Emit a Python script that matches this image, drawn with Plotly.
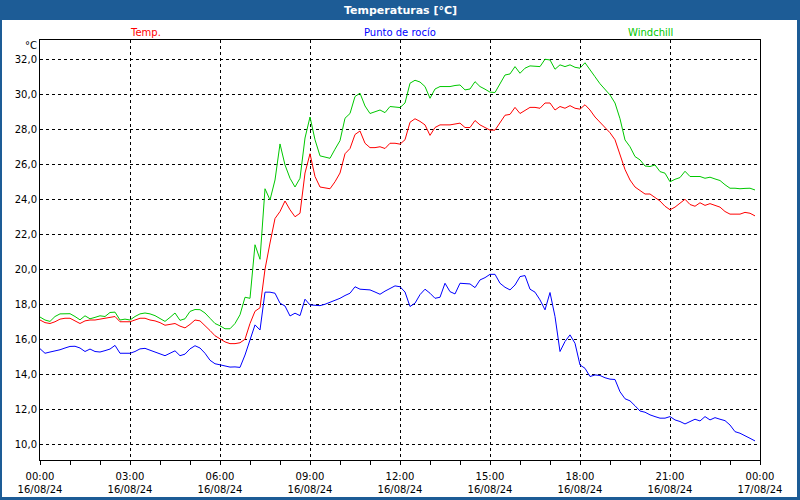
import pandas as pd
import plotly.graph_objects as go

# ---- data (10-minute samples, 16/08/24 00:00 .. 23:50) ----
temp = [17.1, 16.95, 16.9, 17.0, 17.15, 17.2, 17.2, 17.05, 16.9, 17.05, 17.1, 17.1,
        17.15, 17.2, 17.25, 17.3, 17.0, 17.0, 17.0, 17.1, 17.2, 17.2, 17.1, 17.05,
        16.95, 16.8, 16.85, 16.9, 16.75, 16.65, 16.85, 17.1, 17.05, 16.8, 16.5, 16.2,
        16.0, 15.85, 15.75, 15.75, 15.8, 16.0, 16.9, 17.6, 17.8, 20.0, 21.5, 22.9,
        23.3, 23.9, 23.4, 23.0, 23.2, 25.5, 26.6, 25.3, 24.7, 24.65, 24.6, 25.0,
        25.5, 26.6, 26.9, 27.7, 27.9, 27.2, 26.95, 26.95, 27.0, 26.9, 27.2, 27.2,
        27.15, 27.4, 28.4, 28.6, 28.45, 28.25, 27.65, 28.1, 28.25, 28.25, 28.25, 28.3,
        28.35, 28.1, 28.1, 28.5, 28.25, 28.1, 27.95, 27.95, 28.4, 28.8, 28.85, 29.25,
        28.9, 29.1, 29.25, 29.25, 29.2, 29.5, 29.5, 29.1, 29.3, 29.2, 29.35, 29.2,
        29.15, 29.4, 29.1, 28.7, 28.4, 28.05, 27.8, 27.4, 26.6, 25.7, 25.1, 24.7,
        24.5, 24.3, 24.3, 24.1, 23.9, 23.6, 23.4, 23.55, 23.8, 24.0, 23.7, 23.6,
        23.8, 23.65, 23.75, 23.65, 23.55, 23.3, 23.15, 23.15, 23.15, 23.25, 23.2, 23.05]

dew = [15.46, 15.2, 15.27, 15.33, 15.4, 15.5, 15.59, 15.6, 15.5, 15.3, 15.44, 15.3,
       15.27, 15.35, 15.44, 15.65, 15.2, 15.2, 15.2, 15.3, 15.45, 15.48, 15.38, 15.28,
       15.18, 15.06, 15.2, 15.34, 15.06, 15.15, 15.45, 15.63, 15.5, 15.2, 14.8, 14.6,
       14.54, 14.46, 14.41, 14.42, 14.39, 15.1, 15.96, 16.82, 16.53, 18.69, 18.69, 18.63,
       18.06, 17.9, 17.33, 17.49, 17.35, 18.29, 17.96, 17.95, 17.92, 18.0, 18.1, 18.2,
       18.34, 18.5, 18.63, 19.0, 18.86, 18.84, 18.82, 18.7, 18.57, 18.75, 18.91, 19.05,
       19.0, 18.7, 17.87, 18.06, 18.55, 18.86, 18.63, 18.34, 18.4, 19.2, 18.72, 18.59,
       19.2, 19.18, 19.16, 18.95, 19.39, 19.52, 19.71, 19.71, 19.2, 18.97, 18.82, 19.1,
       19.58, 19.64, 18.86, 18.69, 18.25, 17.68, 18.67, 17.3, 15.3, 15.87, 16.25, 15.77,
       14.53, 14.34, 13.87, 13.96, 13.93, 13.8, 13.72, 13.7, 13.0, 12.6, 12.48, 12.2,
       11.9, 11.83, 11.68, 11.58, 11.49, 11.49, 11.58, 11.39, 11.3, 11.16, 11.3, 11.43,
       11.33, 11.58, 11.39, 11.52, 11.43, 11.35, 11.1, 10.72, 10.63, 10.5, 10.34, 10.19]

windchill = [17.27, 17.1, 17.02, 17.3, 17.45, 17.46, 17.46, 17.3, 17.11, 17.34, 17.17, 17.25,
             17.34, 17.3, 17.53, 17.55, 17.1, 17.15, 17.1, 17.3, 17.45, 17.5, 17.45, 17.35,
             17.2, 17.02, 17.25, 17.5, 17.08, 17.17, 17.59, 17.7, 17.69, 17.5, 17.2, 16.9,
             16.77, 16.6, 16.6, 16.9, 17.4, 18.4, 18.34, 21.4, 20.57, 24.6, 23.96, 25.1,
             27.16, 25.96, 25.2, 24.7, 25.2, 27.5, 28.7, 27.4, 26.48, 26.4, 26.34, 26.86,
             27.35, 28.63, 28.9, 29.87, 30.06, 29.33, 28.9, 29.0, 29.1, 28.95, 29.3, 29.27,
             29.24, 29.5, 30.63, 30.8, 30.7, 30.44, 29.77, 30.3, 30.44, 30.44, 30.44, 30.5,
             30.53, 30.25, 30.3, 30.72, 30.44, 30.29, 30.12, 30.1, 30.6, 31.1, 31.16, 31.58,
             31.2, 31.49, 31.62, 31.6, 31.58, 32.0, 31.96, 31.43, 31.68, 31.58, 31.68, 31.54,
             31.49, 31.8, 31.43, 31.0, 30.6, 30.29, 29.96, 29.5, 28.6, 27.39, 27.0, 26.44,
             26.25, 25.9, 25.87, 25.96, 25.58, 25.49, 25.0, 25.14, 25.24, 25.6, 25.3, 25.3,
             25.3, 25.2, 25.26, 25.16, 25.07, 24.83, 24.63, 24.63, 24.6, 24.62, 24.63, 24.53]

times = pd.date_range("2024-08-16 00:00", periods=len(temp), freq="10min")

tick_vals = pd.date_range("2024-08-16 00:00", "2024-08-17 00:00", freq="3h")
tick_text = [t.strftime("%H:%M") + "<br>" + t.strftime("%d/%m/%y") for t in tick_vals]

series_names = ["Temp.", "Punto de rocío", "Windchill"]
series_colors = ["#ff0000", "#0000ff", "#00c800"]

# ---- layout geometry (pixels) ----
W, H = 800, 500
L, R, T, B = 40, 760, 40, 460
FRAME = "#1d5c96"
FONT = "DejaVu Sans"


def px(x):
    return (x - L) / (R - L)


def py(y):
    return (B - y) / (B - T)


fig = go.Figure()
for vals, name, col in zip([temp, dew, windchill], series_names, series_colors):
    fig.add_trace(go.Scatter(x=times, y=vals, mode="lines", name=name,
                             line=dict(color=col, width=1), hoverinfo="x+y"))

shapes = [
    dict(type="rect", xref="paper", yref="paper", x0=px(0), x1=px(W), y0=py(20), y1=py(0),
         fillcolor=FRAME, line=dict(width=0), layer="below"),
    dict(type="rect", xref="paper", yref="paper", x0=px(0), x1=px(2), y0=py(H), y1=py(20),
         fillcolor=FRAME, line=dict(width=0), layer="below"),
    dict(type="rect", xref="paper", yref="paper", x0=px(797), x1=px(W), y0=py(H), y1=py(20),
         fillcolor=FRAME, line=dict(width=0), layer="below"),
    dict(type="rect", xref="paper", yref="paper", x0=px(0), x1=px(W), y0=py(H), y1=py(497),
         fillcolor=FRAME, line=dict(width=0), layer="below"),
]

annotations = [
    dict(text="<b>Temperaturas [°C]</b>", x=px(400), y=py(10), xref="paper", yref="paper",
         showarrow=False, font=dict(family=FONT, size=11, color="white"),
         xanchor="center", yanchor="middle"),
    dict(text="°C", x=px(31), y=py(46), xref="paper", yref="paper", showarrow=False,
         font=dict(family=FONT, size=10, color="black"), xanchor="center", yanchor="middle"),
]
for name, col, xc in zip(series_names, series_colors, [145, 400, 650]):
    annotations.append(dict(text=name, x=px(xc), y=py(32), xref="paper", yref="paper",
                            showarrow=False, font=dict(family=FONT, size=10, color=col),
                            xanchor="center", yanchor="middle"))

fig.update_layout(
    width=W, height=H,
    margin=dict(l=L, r=W - R, t=T, b=H - B, pad=0, autoexpand=False),
    paper_bgcolor="white", plot_bgcolor="white",
    showlegend=False,
    separators=",.",
    font=dict(family=FONT, size=10, color="black"),
    shapes=shapes,
    annotations=annotations,
    xaxis=dict(
        range=[pd.Timestamp("2024-08-16 00:00"), pd.Timestamp("2024-08-17 00:00")],
        tickmode="array", tickvals=tick_vals, ticktext=tick_text,
        ticks="outside", ticklen=4, tickcolor="black", ticklabelstandoff=3,
        minor=dict(dtick=3600000, ticks="outside", ticklen=4, tickcolor="black", showgrid=False),
        showgrid=True, gridcolor="black", gridwidth=1, griddash="3px,3px",
        showline=True, linecolor="black", linewidth=1, mirror=True,
        zeroline=False, tickfont=dict(family=FONT, size=10),
    ),
    yaxis=dict(
        range=[9.1, 33.1], tick0=10, dtick=2, tickformat=".1f",
        ticks="", showgrid=True, gridcolor="black", gridwidth=1, griddash="3px,3px",
        showline=True, linecolor="black", linewidth=1, mirror=True,
        zeroline=False, tickfont=dict(family=FONT, size=10),
    ),
)

fig.write_html("out.html", config={"displayModeBar": False},
               post_script="document.body.style.margin='0';document.body.style.overflow='hidden';")
